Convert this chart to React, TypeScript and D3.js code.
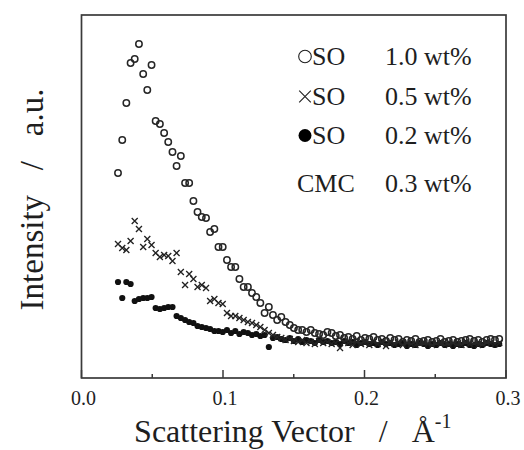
import React from "react";
import * as d3 from "d3";

// Scattering vector grid (Å^-1)
const qValues: number[] = [
  0.0258, 0.0288, 0.0317, 0.0347, 0.0376, 0.0406, 0.0436, 0.0465, 0.0495, 0.0524,
  0.0554, 0.0584, 0.0613, 0.0643, 0.0672, 0.0702, 0.0732, 0.0761, 0.0791, 0.0820,
  0.0850, 0.0880, 0.0909, 0.0939, 0.0968, 0.0998, 0.1028, 0.1057, 0.1087, 0.1116,
  0.1146, 0.1176, 0.1205, 0.1235, 0.1264, 0.1294, 0.1324, 0.1353, 0.1383, 0.1412,
  0.1442, 0.1472, 0.1501, 0.1531, 0.1560, 0.1590, 0.1620, 0.1649, 0.1679, 0.1708,
  0.1738, 0.1768, 0.1797, 0.1827, 0.1856, 0.1886, 0.1916, 0.1945, 0.1975, 0.2004,
  0.2034, 0.2064, 0.2093, 0.2123, 0.2152, 0.2182, 0.2212, 0.2241, 0.2271, 0.2300,
  0.2330, 0.2360, 0.2389, 0.2419, 0.2448, 0.2478, 0.2508, 0.2537, 0.2567, 0.2596,
  0.2626, 0.2656, 0.2685, 0.2715, 0.2744, 0.2774, 0.2804, 0.2833, 0.2863, 0.2892,
  0.2922, 0.2952,
];

// SO 1.0 wt% (open circles), arbitrary units
const so10: (number | null)[] = [
  205, 238, 275, 315, 319, 334, 304, 288, 313, 257,
  254, 245, 236, 226, 212, 222, 195, 195, 177, 166,
  161, 160, 146, 149, 131, 131, 118, 111, 111, 99,
  91, 91, 85, 81, 75, 65, 71, 63, 58, 61,
  56, 53, 50, 48, 48, 46, 48, 45, 44, 43,
  46, 45, 42, 43, 40, 41, 39, 42, 38, 40,
  39, 41, 38, 39, 37, 40, 38, 39, 36, 38,
  37, 39, 36, 37, 38, 36, 37, 39, 36, 37,
  38, 36, 37, 38, 39, 37, 38, 36, 38, 39,
  38, 39,
];

// SO 0.5 wt% (crosses)
const so05: number[] = [
  134, 130, 128, 137, 157, 149, 131, 139, 133, 125,
  121, 123, 122, 117, 125, 106, 93, 104, 99, 91,
  93, 90, 77, 79, 75, 74, 65, 62, 62, 60,
  58, 56, 55, 53, 51, 48, 45, 43, 41, 40,
  38, 39, 37, 36, 38, 35, 36, 34, 37, 35,
  36, 34, 35, 30, 36, 35, 33, 36, 34, 35,
  33, 36, 34, 35, 32, 35, 34, 36, 33, 35,
  34, 33, 35, 36, 34, 33, 35, 34, 36, 33,
  35, 34, 33, 36, 34, 35, 33, 34, 36, 35,
  34, 35,
];

// SO 0.2 wt% (filled circles)
const so02: number[] = [
  96, 80, 96, 94, 77, 79, 80, 80, 81, 70,
  69, 70, 71, 71, 62, 60, 58, 56, 55, 52,
  51, 50, 49, 47, 47, 46, 48, 45, 47, 44,
  46, 45, 43, 44, 42, 43, 31, 40, 41, 39,
  38, 40, 37, 39, 36, 38, 37, 35, 38, 36,
  37, 35, 36, 34, 37, 35, 36, 33, 35, 36,
  34, 35, 33, 36, 34, 35, 33, 34, 35, 32,
  34, 33, 35, 34, 32, 34, 33, 35, 33, 34,
  32, 34, 33, 35, 33, 32, 34, 33, 35, 34,
  33, 34,
];

const xTicksMajor: number[] = [0, 0.1, 0.2, 0.3];
const xTicksMinor: number[] = [0.05, 0.15, 0.25];
const xTickLabels: string[] = ["0.0", "0.1", "0.2", "0.3"];

const legendRows: { symbol: string; name: string; conc: string }[] = [
  { symbol: "open", name: "SO", conc: "1.0 wt%" },
  { symbol: "cross", name: "SO", conc: "0.5 wt%" },
  { symbol: "filled", name: "SO", conc: "0.2 wt%" },
  { symbol: "none", name: "CMC", conc: "0.3 wt%" },
];

const FONT = "'Liberation Serif', 'Times New Roman', serif";
const INK = "#1e1e1e";
const SP = "\u00A0\u00A0\u00A0";

export default function App() {
  const W = 524;
  const H = 450;
  const left = 81.5;
  const right = 506;
  const top = 15;
  const bottom = 378;

  const x = d3.scaleLinear().domain([0, 0.3]).range([left, right]);
  const y = d3.scaleLinear().domain([0, 363]).range([bottom, top]);

  const pts = (arr: (number | null)[]) =>
    qValues
      .map((q, i) => ({ q, v: arr[i] }))
      .filter((d) => d.v !== null && d.v !== undefined) as { q: number; v: number }[];

  const legendBaselines = [65, 105, 144, 192];

  return (
    <svg
      width={W}
      height={H}
      style={{ position: "absolute", left: 0, top: 0, background: "#fff" }}
      fontFamily={FONT}
    >
      <rect x={0} y={0} width={W} height={H} fill="#fff" />

      {/* filled circles */}
      {pts(so02).map((d, i) => (
        <circle key={"f" + i} cx={x(d.q)} cy={y(d.v)} r={3.1} fill="#111" />
      ))}
      {/* crosses */}
      {pts(so05).map((d, i) => {
        const cx = x(d.q);
        const cy = y(d.v);
        const s = 3;
        return (
          <path
            key={"c" + i}
            d={`M${cx - s},${cy - s}L${cx + s},${cy + s}M${cx - s},${cy + s}L${cx + s},${cy - s}`}
            stroke="#222"
            strokeWidth={1.35}
            fill="none"
          />
        );
      })}
      {/* open circles */}
      {pts(so10).map((d, i) => (
        <circle
          key={"o" + i}
          cx={x(d.q)}
          cy={y(d.v)}
          r={3.2}
          fill="none"
          stroke="#262626"
          strokeWidth={1.5}
        />
      ))}

      {/* frame */}
      <rect
        x={left}
        y={top}
        width={right - left}
        height={bottom - top}
        fill="none"
        stroke="#3a3a3a"
        strokeWidth={1.7}
      />

      {/* x ticks (inward) */}
      {xTicksMajor.map((t) => (
        <line key={"M" + t} x1={x(t)} x2={x(t)} y1={bottom} y2={bottom - 8} stroke="#3a3a3a" strokeWidth={1.5} />
      ))}
      {xTicksMinor.map((t) => (
        <line key={"m" + t} x1={x(t)} x2={x(t)} y1={bottom} y2={bottom - 4} stroke="#3a3a3a" strokeWidth={1.5} />
      ))}
      {xTicksMajor.map((t, i) => (
        <text key={"l" + t} x={x(t) + 2} y={405} textAnchor="middle" fontSize={20} fill={INK}>
          {xTickLabels[i]}
        </text>
      ))}

      {/* axis titles */}
      <text x={(left + right) / 2 - 1} y={442} textAnchor="middle" fontSize={32} fill={INK}>
        Scattering Vector{SP}/{SP}Å
        <tspan fontSize={20} dy={-14}>-1</tspan>
      </text>
      <text
        transform={`translate(43, ${(top + bottom) / 2 + 3}) rotate(-90)`}
        textAnchor="middle"
        fontSize={33}
        fill={INK}
      >
        Intensity{SP}/{SP}a.u.
      </text>

      {/* legend */}
      {legendRows.map((row, i) => {
        const b = legendBaselines[i];
        const cy = b - 8.5;
        const sx = 305;
        let sym = null;
        if (row.symbol === "open")
          sym = <circle cx={sx} cy={cy} r={6.3} fill="none" stroke={INK} strokeWidth={1.1} />;
        else if (row.symbol === "cross")
          sym = (
            <path
              d={`M${sx - 5.8},${cy - 5.8}L${sx + 5.8},${cy + 5.8}M${sx - 5.8},${cy + 5.8}L${sx + 5.8},${cy - 5.8}`}
              stroke={INK}
              strokeWidth={1.1}
            />
          );
        else if (row.symbol === "filled") sym = <circle cx={sx} cy={cy} r={6.5} fill="#000" />;
        return (
          <g key={"lg" + i}>
            {sym}
            <text x={row.symbol === "none" ? 297 : 312} y={b} fontSize={26} fill={INK}>
              {row.name}
            </text>
            <text x={385} y={b} fontSize={26} fill={INK}>
              {row.conc}
            </text>
          </g>
        );
      })}
    </svg>
  );
}
